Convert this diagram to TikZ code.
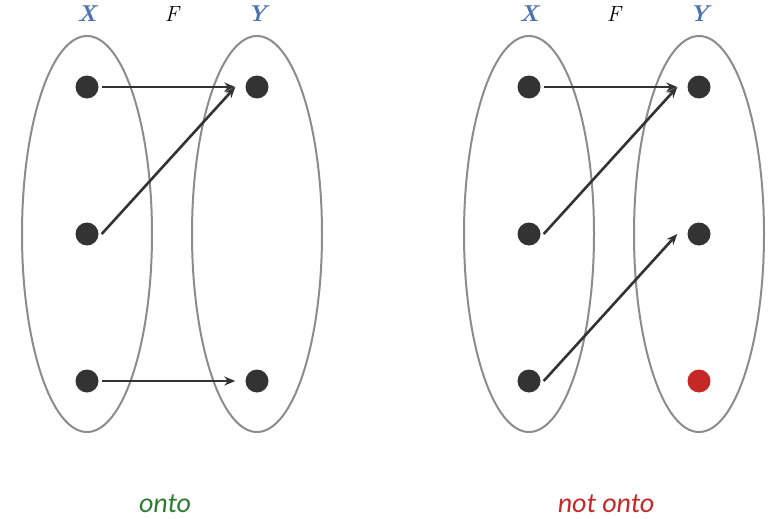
\documentclass[tikz,border=0pt]{standalone}
\usepackage{fontspec}
\setsansfont{Carlito}
\usetikzlibrary{arrows.meta}
\definecolor{setgray}{HTML}{8C8C8C}
\definecolor{dotgray}{HTML}{333333}
\definecolor{setblue}{HTML}{4A72B0}
\definecolor{okgreen}{HTML}{2E7D32}
\definecolor{badred}{HTML}{C62828}
\tikzset{
  setring/.style={draw=setgray, line width=2pt},
  elem/.style={circle, fill=dotgray, minimum size=23pt, inner sep=0pt},
  mapto/.style={draw=dotgray, line width=2.6pt, -{Stealth[length=11pt,width=9pt]}},
  setname/.style={text=setblue, font=\fontsize{23}{25}\selectfont\bfseries\itshape},
  funname/.style={font=\fontsize{22}{24}\selectfont\itshape},
  verdict/.style={inner sep=0pt, font=\sffamily\itshape\fontsize{28}{30}\selectfont}
}
\begin{document}
\begin{tikzpicture}[x=1pt,y=-1pt]
\useasboundingbox (0,0) rectangle (776,519);
% onto
\draw[setring] (87,234) ellipse (65 and 198);
\draw[setring] (257,234) ellipse (65 and 198);
\node[setname] (x1) at (87,14) {X};
\node[funname] (f1) at (172,14) {F};
\node[setname] (y1) at (257,14) {Y};
\node[elem] (a1) at (87,87) {};
\node[elem] (a2) at (87,234) {};
\node[elem] (a3) at (87,381) {};
\node[elem] (b1) at (257,87) {};
\node[elem] (b3) at (257,381) {};
\draw[mapto] ([xshift=3pt]a1.east) -- ([xshift=-10pt]b1.west);
\draw[mapto] ([xshift=3pt]a2.east) -- ([xshift=-10pt]b1.west);
\draw[mapto] ([xshift=3pt]a3.east) -- ([xshift=-10pt]b3.west);
\node[verdict, text=okgreen] (ok) at (165,504) {onto};
% not onto
\draw[setring] (529,234) ellipse (65 and 198);
\draw[setring] (699,234) ellipse (65 and 198);
\node[setname] (x2) at (529,14) {X};
\node[funname] (f2) at (614,14) {F};
\node[setname] (y2) at (699,14) {Y};
\node[elem] (c1) at (529,87) {};
\node[elem] (c2) at (529,234) {};
\node[elem] (c3) at (529,381) {};
\node[elem] (d1) at (699,87) {};
\node[elem] (d2) at (699,234) {};
\node[elem, fill=badred] (d3) at (699,381) {};
\draw[mapto] ([xshift=3pt]c1.east) -- ([xshift=-10pt]d1.west);
\draw[mapto] ([xshift=3pt]c2.east) -- ([xshift=-10pt]d1.west);
\draw[mapto] ([xshift=3pt]c3.east) -- ([xshift=-10pt]d2.west);
\node[verdict, text=badred] (bad) at (606,504) {not onto};
\end{tikzpicture}
\end{document}
